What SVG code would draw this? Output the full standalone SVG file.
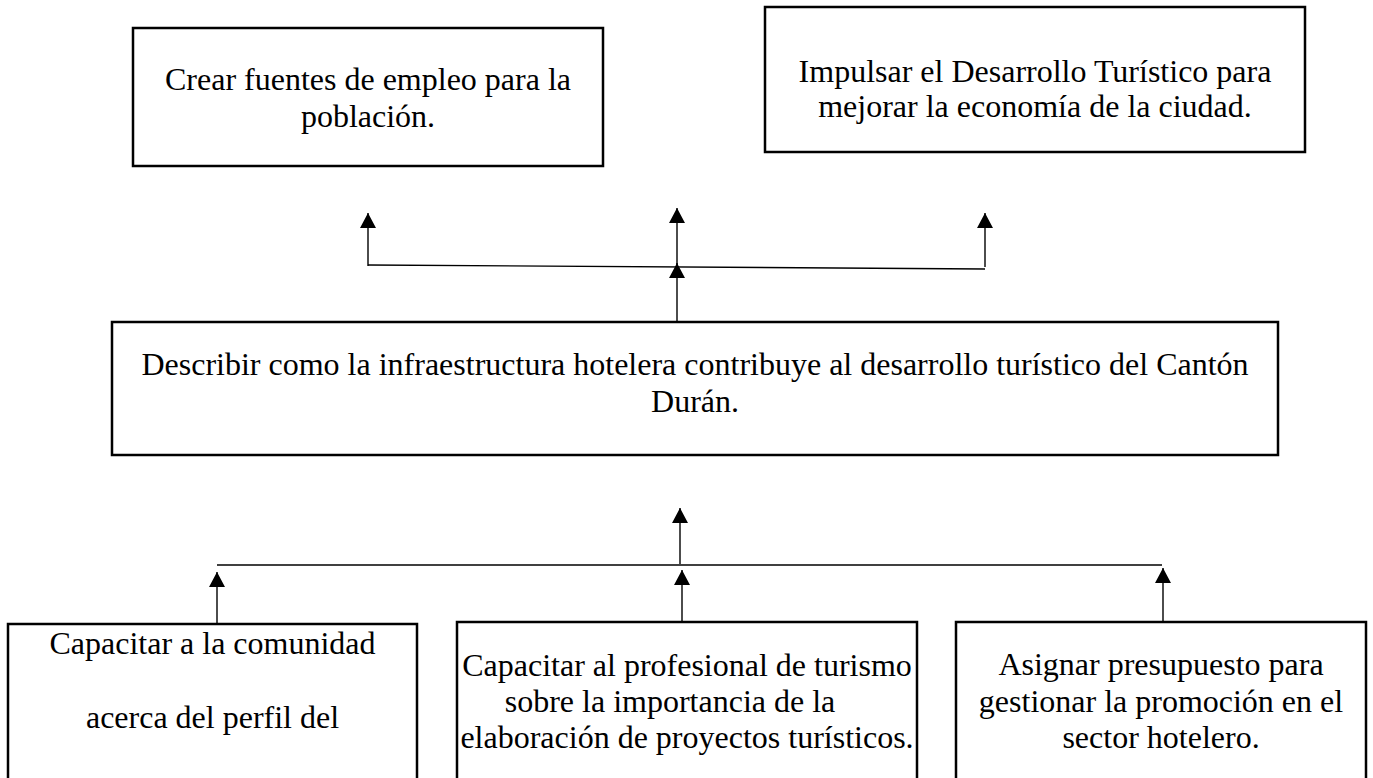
<svg xmlns="http://www.w3.org/2000/svg" width="1373" height="778" viewBox="0 0 1373 778">
<style>
.box{fill:#fff;stroke:#000;stroke-width:2.5}
.t{font-family:"Liberation Serif","Times New Roman",serif;font-size:32px;fill:#000;text-anchor:middle}
.c{stroke:#000;stroke-width:1.4;fill:none}
.a{marker-end:url(#ah)}
</style>
<defs>
<marker id="ah" markerUnits="userSpaceOnUse" markerWidth="16" markerHeight="16" refX="15" refY="8" orient="auto" viewBox="0 0 16 16">
<path d="M0,0 L15,8 L0,16 z" fill="#000"/>
</marker>
</defs>
<rect width="1373" height="778" fill="#fff"/>
<g id="connectors">
<line class="c" x1="368" y1="265" x2="985" y2="269"/>
<line class="c a" x1="368" y1="266" x2="368" y2="213"/>
<line class="c a" x1="677" y1="267" x2="677" y2="208"/>
<line class="c a" x1="985" y1="267" x2="985" y2="213"/>
<line class="c a" x1="677" y1="321" x2="677" y2="263"/>
<line class="c a" x1="680" y1="564" x2="680" y2="508"/>
<line class="c" x1="217" y1="565" x2="1162" y2="565"/>
<line class="c a" x1="217" y1="625" x2="217" y2="572"/>
<line class="c a" x1="682" y1="624" x2="682" y2="570"/>
<line class="c a" x1="1163" y1="622" x2="1163" y2="568"/>
</g>
<g id="n1">
<rect class="box" x="133" y="28" width="470" height="138"/>
<text class="t" x="368" y="90">Crear fuentes de empleo para la</text>
<text class="t" x="368" y="127">población.</text>
</g>
<g id="n2">
<rect class="box" x="765" y="7" width="540" height="145"/>
<text class="t" x="1035" y="82">Impulsar el Desarrollo Turístico para</text>
<text class="t" x="1035" y="117">mejorar la economía de la ciudad.</text>
</g>
<g id="n3">
<rect class="box" x="112" y="322" width="1166" height="133"/>
<text class="t" x="695" y="375">Describir como la infraestructura hotelera contribuye al desarrollo turístico del Cantón</text>
<text class="t" x="695" y="412">Durán.</text>
</g>
<g id="n4">
<rect class="box" x="8" y="624" width="409" height="170"/>
<text class="t" x="212.5" y="654">Capacitar a la comunidad</text>
<text class="t" x="212.5" y="728">acerca del perfil del</text>
</g>
<g id="n5">
<rect class="box" x="457" y="622" width="460" height="172"/>
<text class="t" x="687" y="676">Capacitar al profesional de turismo</text>
<text class="t" x="670" y="712">sobre la importancia de la</text>
<text class="t" x="687" y="748">elaboración de proyectos turísticos.</text>
</g>
<g id="n6">
<rect class="box" x="956" y="622" width="410" height="172"/>
<text class="t" x="1161" y="675">Asignar presupuesto para</text>
<text class="t" x="1161" y="712">gestionar la promoción en el</text>
<text class="t" x="1161" y="748">sector hotelero.</text>
</g>
</svg>
